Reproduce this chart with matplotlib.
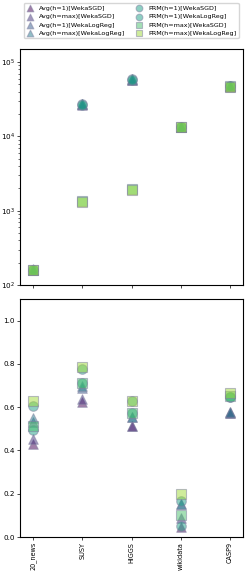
import matplotlib
matplotlib.use("Agg")
import matplotlib.pyplot as plt
import numpy as np

datasets = ["20_news", "SUSY", "HIGGS", "wikidata", "CASP9"]
series = ["Avg(h=1)[WekaSGD]", "Avg(h=max)[WekaSGD]", "Avg(h=1)[WekaLogReg]", "Avg(h=max)[WekaLogReg]",
          "PRM(h=1)[WekaSGD]", "PRM(h=1)[WekaLogReg]", "PRM(h=max)[WekaSGD]", "PRM(h=max)[WekaLogReg]"]
markers = ["^", "^", "^", "^", "o", "o", "s", "s"]

# top panel (log scale)
time_avg_h1_sgd = [160, 27000, 58000, 13300, 47000]
time_avg_hmax_sgd = [158, 26500, 59000, 13200, 46000]
time_avg_h1_lr = [162, 27500, 57000, 13400, 48000]
time_avg_hmax_lr = [160, 27000, 60000, 13300, 47500]
time_prm_h1_sgd = [160, 27000, 59000, 13300, 48000]
time_prm_h1_lr = [158, 26800, 58000, 13200, 47000]
time_prm_hmax_sgd = [160, 1350, 1950, 13300, 47000]
time_prm_hmax_lr = [158, 1300, 1900, 13200, 46000]

# bottom panel
acc_avg_h1_sgd = [0.429, 0.625, 0.512, 0.046, 0.571]
acc_avg_hmax_sgd = [0.455, 0.636, 0.512, 0.090, 0.579]
acc_avg_h1_lr = [0.530, 0.687, 0.556, 0.154, 0.575]
acc_avg_hmax_lr = [0.552, 0.700, 0.556, 0.154, 0.579]
acc_prm_h1_sgd = [0.494, 0.713, 0.571, 0.049, 0.645]
acc_prm_h1_lr = [0.605, 0.775, 0.628, 0.165, 0.645]
acc_prm_hmax_sgd = [0.512, 0.713, 0.574, 0.100, 0.651]
acc_prm_hmax_lr = [0.628, 0.784, 0.628, 0.200, 0.664]

top_vals = [time_avg_h1_sgd, time_avg_hmax_sgd, time_avg_h1_lr, time_avg_hmax_lr,
            time_prm_h1_sgd, time_prm_h1_lr, time_prm_hmax_sgd, time_prm_hmax_lr]
bot_vals = [acc_avg_h1_sgd, acc_avg_hmax_sgd, acc_avg_h1_lr, acc_avg_hmax_lr,
            acc_prm_h1_sgd, acc_prm_h1_lr, acc_prm_hmax_sgd, acc_prm_hmax_lr]

colors = ["#440154", "#46327e", "#365c8d", "#277f8e", "#1fa187", "#1fa187", "#4ac16d", "#a0da39"]

fig = plt.figure(figsize=(2.5, 5.72), dpi=100)
ax1 = fig.add_axes([20/250, 287/572, 223/250, 236/572])
ax2 = fig.add_axes([20/250, 35/572, 223/250, 238/572])

x = np.arange(len(datasets))
handles = []
for i in range(8):
    h = ax1.scatter(x, top_vals[i], marker=markers[i], s=48, color=colors[i], alpha=0.5,
                    edgecolors="#7f7f9f", linewidths=0.8, label=series[i], zorder=3)
    ax2.scatter(x, bot_vals[i], marker=markers[i], s=48, color=colors[i], alpha=0.5,
                edgecolors="#7f7f9f", linewidths=0.8, zorder=3)
    handles.append(h)

ax1.set_yscale("log")
ax1.set_ylim(1e2, 1.5e5)
for ax in (ax1, ax2):
    ax.set_xlim(-0.27, 4.27)
    ax.set_xticks(x)
    ax.tick_params(labelsize=5.2, length=2, width=0.5, pad=1.5)
    for s in ax.spines.values():
        s.set_linewidth(0.8)
ax1.set_xticklabels([])
ax1.tick_params(which="minor", length=1.2, width=0.4)
ax2.set_xticklabels(datasets, rotation=90)
ax2.tick_params(axis="x", labelsize=4.7)
ax2.set_ylim(0, 1.1)
ax2.set_yticks([0.0, 0.2, 0.4, 0.6, 0.8, 1.0])

fig.legend(handles, series, ncol=2, fontsize=4.6,
           loc="upper center", bbox_to_anchor=(0.525, 1.0), frameon=True, handletextpad=0.8,
           columnspacing=1.6, borderpad=0.35, labelspacing=0.45, markerscale=0.7,
           handlelength=1.2)

fig.savefig("out.png", dpi=100)
